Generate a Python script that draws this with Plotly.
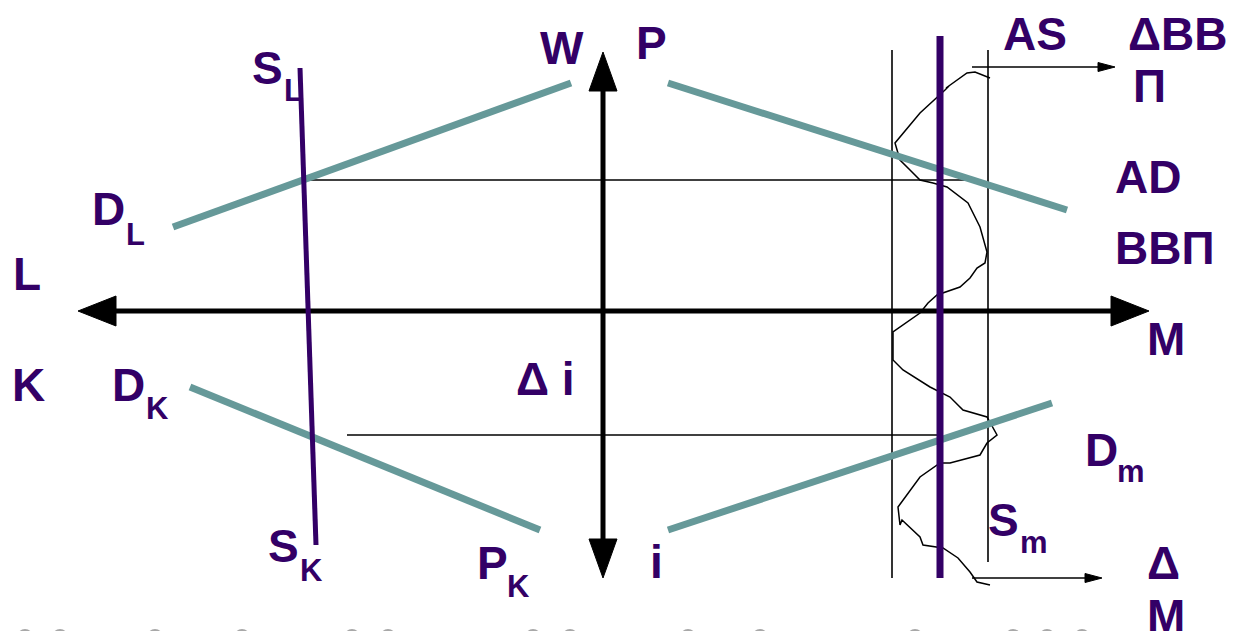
import plotly.graph_objects as go

# ── Cores ────────────────────────────────────────────────────────────────────
TEAL = "#669999"
ROXO = "#330066"
PRETO = "#000000"
CINZA = "#a8a8a8"
FONTE = "Liberation Sans, Arial, sans-serif"

# ── Dados do esquema (coordenadas em pixels, y para baixo) ───────────────────
# eixos principais (setas grossas)
EIXO_H_X = [115, 1112]
EIXO_H_Y = [311, 311]
EIXO_V_X = [603, 603]
EIXO_V_Y = [90, 540]

# retas teal
DL_X = [173, 571]
DL_Y = [227, 83]
P_X = [668, 1067]
P_Y = [83, 210]
DK_X = [190, 540]
DK_Y = [387, 530]
DM_X = [668, 1052]
DM_Y = [530, 403]

# retas roxas
S_X = [300, 316]
S_Y = [68, 545]
AS_X = [940, 940]
AS_Y = [36, 578]

# linhas finas
LH1_X = [300, 972]
LH1_Y = [180, 180]
LH2_X = [347, 940]
LH2_Y = [435, 435]
LV1_X = [892, 892]
LV1_Y = [50, 578]
LV2_X = [988, 988]
LV2_Y = [50, 562]
SETA1_X = [972, 1098]
SETA1_Y = [67, 67]
SETA2_X = [972, 1085]
SETA2_Y = [578, 578]

# curva ondulada (ciclo)
CURVA_X = [990, 975, 967, 955, 946, 949, 945, 920, 895, 900, 910, 920, 933, 947,
           968, 980, 987, 985, 977, 970, 960, 937, 928, 920, 893, 893, 903, 930,
           950, 963, 987, 997, 987, 980, 950, 940, 920, 898, 900, 902, 920, 923,
           943, 958, 970, 977, 990]
CURVA_Y = [78, 72, 73, 82, 88, 86, 90, 113, 143, 160, 170, 180, 183, 187,
           203, 227, 252, 263, 268, 278, 287, 295, 303, 313, 332, 360, 370, 387,
           397, 410, 417, 435, 443, 455, 463, 463, 477, 507, 525, 520, 537, 545,
           548, 558, 572, 582, 585]

# marcas cinzas no rodapé
MARCAS_X = [25, 60, 155, 242, 352, 388, 533, 570, 688, 760, 915, 1013, 1047, 1082]

# rótulos: (texto, x esquerdo, y centro das maiúsculas)
ROTULOS = [
    ("W", 538, 48),
    ("P", 634, 43),
    ("S", 250, 68),
    ("AS", 1001, 34),
    ("ΔBB", 1126, 34),
    ("П", 1131, 86),
    ("D", 90, 209),
    ("AD", 1113, 177),
    ("ВВП", 1113, 248),
    ("L", 11, 274),
    ("M", 1145, 339),
    ("K", 10, 385),
    ("D", 110, 385),
    ("Δ i", 514, 379),
    ("D", 1083, 450),
    ("S", 266, 546),
    ("P", 475, 563),
    ("i", 648, 562),
    ("S", 986, 520),
    ("Δ", 1145, 563),
    ("M", 1145, 616),
]

# índices (subscritos): (texto, x esquerdo, y centro)
INDICES = [
    ("L", 282, 90),
    ("L", 124, 234),
    ("K", 144, 408),
    ("m", 1115, 471),
    ("K", 298, 570),
    ("K", 505, 586),
    ("m", 1018, 542),
]


def ponta(x0, y0, x1, y1, comp, larg):
    """Triângulo da ponta da seta, na direção (x0,y0) -> (x1,y1)."""
    dx, dy = x1 - x0, y1 - y0
    n = (dx * dx + dy * dy) ** 0.5
    ux, uy = dx / n, dy / n
    bx, by = x1 - ux * comp, y1 - uy * comp
    px, py = -uy * larg / 2, ux * larg / 2
    return [x1, bx + px, bx - px, x1], [y1, by + py, by - py, y1]


fig = go.Figure()


def linha(xs, ys, cor, larg):
    fig.add_trace(go.Scatter(x=xs, y=ys, mode="lines",
                             line=dict(color=cor, width=larg),
                             hoverinfo="skip", showlegend=False))


def triangulo(xs, ys):
    fig.add_trace(go.Scatter(x=xs, y=ys, mode="lines", fill="toself",
                             fillcolor=PRETO, line=dict(color=PRETO, width=1),
                             hoverinfo="skip", showlegend=False))


# linhas finas
for xs, ys in [(LH1_X, LH1_Y), (LH2_X, LH2_Y), (LV1_X, LV1_Y), (LV2_X, LV2_Y),
               (SETA1_X, SETA1_Y), (SETA2_X, SETA2_Y)]:
    linha(xs, ys, PRETO, 1.6)
triangulo(*ponta(SETA1_X[0], SETA1_Y[0], SETA1_X[1] + 17, SETA1_Y[1], 17, 9))
triangulo(*ponta(SETA2_X[0], SETA2_Y[0], SETA2_X[1] + 17, SETA2_Y[1], 17, 9))

# curva ondulada
linha(CURVA_X, CURVA_Y, PRETO, 1.5)

# eixos principais
linha(EIXO_H_X, EIXO_H_Y, PRETO, 5)
linha(EIXO_V_X, EIXO_V_Y, PRETO, 5)
triangulo(*ponta(EIXO_H_X[1], EIXO_H_Y[0], EIXO_H_X[0] - 37, EIXO_H_Y[0], 38, 30))
triangulo(*ponta(EIXO_H_X[0], EIXO_H_Y[0], EIXO_H_X[1] + 37, EIXO_H_Y[0], 38, 30))
triangulo(*ponta(EIXO_V_X[0], EIXO_V_Y[1], EIXO_V_X[0], EIXO_V_Y[0] - 38, 39, 28))
triangulo(*ponta(EIXO_V_X[0], EIXO_V_Y[0], EIXO_V_X[0], EIXO_V_Y[1] + 38, 39, 28))

# retas teal
for xs, ys in [(DL_X, DL_Y), (P_X, P_Y), (DK_X, DK_Y), (DM_X, DM_Y)]:
    linha(xs, ys, TEAL, 7)

# retas roxas
linha(S_X, S_Y, ROXO, 5)
linha(AS_X, AS_Y, ROXO, 7)

# marcas cinzas no rodapé
fig.add_trace(go.Scatter(x=MARCAS_X, y=[637] * len(MARCAS_X), mode="markers",
                         marker=dict(symbol="circle", size=16, color=CINZA),
                         hoverinfo="skip", showlegend=False))

for texto, x, y in ROTULOS:
    fig.add_annotation(x=x, y=y, text=f"<b>{texto}</b>", showarrow=False,
                       xanchor="left", yanchor="middle",
                       font=dict(family=FONTE, size=46, color=ROXO))

for texto, x, y in INDICES:
    fig.add_annotation(x=x, y=y, text=f"<b>{texto}</b>", showarrow=False,
                       xanchor="left", yanchor="middle",
                       font=dict(family=FONTE, size=31, color=ROXO))

fig.update_layout(
    width=1235, height=631,
    margin=dict(l=0, r=0, t=0, b=0),
    paper_bgcolor="white", plot_bgcolor="white",
    xaxis=dict(range=[0, 1235], visible=False, fixedrange=True),
    yaxis=dict(range=[631, 0], visible=False, fixedrange=True),
)

# sem margem da página, para o gráfico começar no canto
fig.write_html("out.html", config={"displayModeBar": False},
               post_script="document.body.style.margin='0';")
